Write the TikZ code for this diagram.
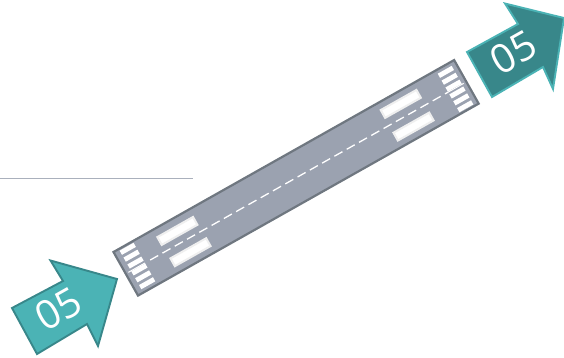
\documentclass[tikz,border=0pt]{standalone}
\usepackage{fontspec}
\setmainfont{Open Sans}
\definecolor{tealA}{HTML}{4BB3B5}
\definecolor{tealB}{HTML}{38878A}
\definecolor{rwy}{HTML}{9BA2B0}
\definecolor{rwyedge}{HTML}{6F7780}
\definecolor{mark}{HTML}{EFEFEF}
\tikzset{
  px/.style={x=1pt,y=-1pt},
  arrowA/.style={fill=tealA,draw=tealB,line width=1.9pt,line join=miter},
  arrowB/.style={fill=tealB,draw=tealA,line width=1.9pt,line join=miter},
  rwybody/.style={fill=rwy,draw=rwyedge,line width=2.2pt,line join=miter},
  zone/.style={fill=white,draw=mark,line width=2pt},
  stripe/.style={fill=white},
  cline/.style={draw=white,line width=1.3pt,dash pattern=on 9.2pt off 4.9pt},
  sline/.style={draw=white,line width=1pt},
  rule/.style={draw=rwy!85!white,line width=1pt},
  num/.style={text=white,font=\fontsize{40}{40}\selectfont,inner sep=0pt}
}
\begin{document}
\begin{tikzpicture}[px]
\useasboundingbox (0,0) rectangle (564,357);
\coordinate (ra) at (0,178);
\coordinate (rb) at (193,178);
\draw[rule] (ra) -- (rb);
% runway in its own along/across axes
\begin{scope}[shift={(113.5,252)},rotate=29.4]
  \path[rwybody] (0,0) -- (391,0) -- (391,50) -- (0,50) -- cycle;
  \foreach \v in {0,1,2,3,4,5}{
    \path[stripe] (6,4.2+7.9*\v-2.4) rectangle (22,4.2+7.9*\v+2.4);
    \path[stripe] (370,6.2+7.9*\v-2.4) rectangle (386,6.2+7.9*\v+2.4);
  }
  \coordinate (s1) at (3,25);
  \coordinate (s2) at (22,25);
  \coordinate (s3) at (370,25);
  \coordinate (s4) at (388,25);
  \coordinate (cl1) at (28,25);
  \coordinate (cl2) at (370,25);
  \draw[sline] (s1) -- (s2);
  \draw[sline] (s3) -- (s4);
  \draw[cline] (cl1) -- (cl2);
  \path[zone] (45.5,8.5) rectangle (86.5,17.5);
  \path[zone] (46.5,33.5) rectangle (87.5,42.5);
  \path[zone] (302.5,7.5) rectangle (343.5,16.5);
  \path[zone] (302.5,33.5) rectangle (343.5,42.5);
\end{scope}
\path[arrowA] (117,279) -- (50.5,260.5) -- (63,281) -- (12,308) -- (37,354) -- (87,324) -- (98,346) -- cycle;
\path[arrowB] (564,18) -- (505,3.5) -- (518,24) -- (467,52) -- (492,97) -- (543,67) -- (553,89) -- cycle;
\node[num,rotate=29.4] (n1) at (58,309) {05};
\node[num,rotate=29.4] (n2) at (513.5,52.5) {05};
\end{tikzpicture}
\end{document}
